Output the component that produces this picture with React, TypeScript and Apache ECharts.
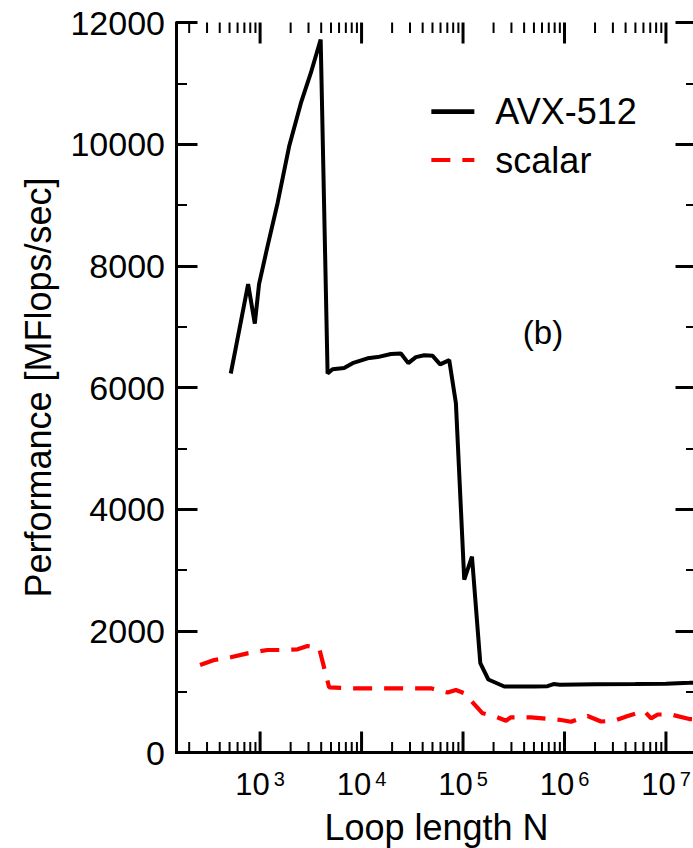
import React, { useEffect, useRef } from 'react';
import * as echarts from 'echarts';

const FONT = '"Liberation Sans", Arial, Helvetica, sans-serif';

// AVX-512 series (loop length N, MFlops/sec)
const avxN = [514, 576, 762, 887, 977, 1183, 1486, 1931, 2518, 3162, 3954, 4625, 5176, 6730, 8150, 11460, 14390, 19450, 24430, 28850, 34300, 41500, 50150, 59550, 73100, 85100, 102800, 122500, 148000, 177600, 254900, 500000, 680000, 780000, 900000, 2000000, 5000000, 10000000, 17000000, 20000000];
const avxPerf = [6230, 6650, 7700, 7050, 7700, 8320, 9030, 9960, 10670, 11170, 11720, 6230, 6300, 6320, 6400, 6480, 6500, 6550, 6560, 6400, 6500, 6530, 6520, 6380, 6450, 5740, 2840, 3220, 1470, 1200, 1085, 1085, 1090, 1125, 1115, 1120, 1125, 1130, 1145, 1150];

// scalar series
const scalarN = [256, 352, 514, 751, 1183, 1600, 2340, 2930, 3820, 4790, 7830, 24430, 48300, 70500, 85100, 102800, 156000, 211000, 265000, 297000, 468000, 925000, 1160000, 1690000, 2290000, 3100000, 4200000, 6130000, 7130000, 8300000, 11200000, 17000000, 20000000];
const scalarPerf = [1440, 1520, 1565, 1630, 1685, 1685, 1696, 1750, 1715, 1072, 1055, 1055, 1055, 985, 1027, 975, 644, 589, 523, 578, 578, 534, 506, 600, 510, 523, 600, 680, 562, 625, 625, 550, 545];

// axis ticks
const X_MIN = 150;
const X_MAX = 2e7;
const MAJOR_TICKS = [1e3, 1e4, 1e5, 1e6, 1e7];
const DECADES = [1e2, 1e3, 1e4, 1e5, 1e6, 1e7];
const MINOR_MULT = [2, 3, 4, 5, 6, 7, 8, 9];
const Y_TICKS = [0, 2000, 4000, 6000, 8000, 10000, 12000];

export default function App() {
  const ref = useRef<HTMLDivElement>(null);
  useEffect(() => {
    const chart = echarts.init(ref.current!, null, { renderer: 'svg' });
    const minor: number[] = [];
    DECADES.forEach((d) => MINOR_MULT.forEach((m) => {
      const v = d * m;
      if (v > X_MIN && v < X_MAX) minor.push(v);
    }));
    const tickData = [
      ...MAJOR_TICKS.map((v) => [v, 0, 1]),
      ...minor.map((v) => [v, 0, 0]),
    ];
    const xFormatter = (v: number) => {
      const e = Math.round(Math.log10(v));
      if (Math.abs(Math.log10(v) - e) > 1e-6) return '';
      return `{b|10}{s|${e}}`;
    };
    const yAxisCommon = {
      type: 'value',
      min: Y_TICKS[0],
      max: Y_TICKS[Y_TICKS.length - 1],
      interval: 2000,
      splitLine: { show: false },
      axisLine: { show: true, lineStyle: { color: '#000', width: 3 } },
      axisTick: { show: true, inside: true, length: 21, lineStyle: { color: '#000', width: 3 } },
      minorTick: { show: true, splitNumber: 2, length: 10.5, lineStyle: { color: '#000', width: 2 } },
      minorSplitLine: { show: false },
    };
    chart.setOption({
      animation: false,
      backgroundColor: '#fff',
      grid: { left: 176.5, top: 22.5, width: 520, height: 730, containLabel: false, outerBoundsMode: 'none' },
      xAxis: [
        {
          type: 'log',
          min: X_MIN,
          max: X_MAX,
          position: 'bottom',
          name: 'Loop length N',
          nameLocation: 'middle',
          nameGap: 57,
          nameTextStyle: { fontSize: 36, fontFamily: FONT, color: '#000' },
          axisLine: { show: true, lineStyle: { color: '#000', width: 3 } },
          axisTick: { show: false },
          minorTick: { show: false },
          splitLine: { show: false },
          axisLabel: {
            formatter: xFormatter,
            margin: 16.6,
            showMinLabel: false,
            showMaxLabel: false,
            color: '#000',
            rich: {
              b: { fontSize: 31, lineHeight: 31, fontFamily: FONT, color: '#000', padding: [7, 0, 0, 0], verticalAlign: 'bottom' },
              s: { fontSize: 20, lineHeight: 20, fontFamily: FONT, color: '#000', padding: [0, 0, 0, 4], verticalAlign: 'top' },
            },
          },
        },
        {
          type: 'log',
          min: X_MIN,
          max: X_MAX,
          position: 'top',
          axisLine: { show: true, lineStyle: { color: '#000', width: 3 } },
          axisTick: { show: false },
          minorTick: { show: false },
          splitLine: { show: false },
          axisLabel: { show: false },
        },
      ],
      yAxis: [
        {
          ...yAxisCommon,
          position: 'left',
          name: 'Performance [MFlops/sec]',
          nameLocation: 'middle',
          nameRotate: 90,
          nameGap: 120,
          nameTextStyle: { fontSize: 36, fontFamily: FONT, color: '#000' },
          axisLabel: { fontSize: 34, fontFamily: FONT, color: '#000', margin: 11.5, formatter: (v: number) => String(v) },
        },
        {
          ...yAxisCommon,
          position: 'right',
          axisLabel: { show: false },
        },
      ],
      legend: {
        data: [
          { name: 'AVX-512', lineStyle: { width: 4.7 } },
          { name: 'scalar', lineStyle: { width: 4.2 } },
        ],
        orient: 'vertical',
        left: 429,
        top: 93.7,
        padding: 0,
        itemWidth: 43,
        itemHeight: 20,
        itemGap: 12.3,
        selectedMode: false,
        itemStyle: { opacity: 0 },
        textStyle: { fontSize: 36, lineHeight: 36, fontFamily: FONT, color: '#000', padding: [0, 0, 0, 16] },
      },
      graphic: [
        {
          type: 'text',
          x: 543,
          y: 332,
          style: { text: '(b)', fontSize: 33, fontFamily: FONT, fill: '#000', align: 'center', verticalAlign: 'middle', textAlign: 'center', textVerticalAlign: 'middle' },
        },
      ],
      series: [
        {
          name: 'AVX-512',
          type: 'line',
          data: avxN.map((n, i) => [n, avxPerf[i]]),
          symbol: 'none',
          showSymbol: false,
          lineStyle: { color: '#000', width: 4 },
          itemStyle: { color: '#000' },
          z: 4,
        },
        {
          name: 'scalar',
          type: 'line',
          data: scalarN.map((n, i) => [n, scalarPerf[i]]),
          symbol: 'none',
          showSymbol: false,
          lineStyle: { color: '#ff0000', width: 4.2, type: [19, 12] },
          itemStyle: { color: '#ff0000' },
          z: 3,
        },
        {
          type: 'custom',
          silent: true,
          xAxisIndex: 0,
          yAxisIndex: 0,
          encode: { x: 0, y: 1 },
          data: tickData,
          z: 5,
          renderItem: (params: any, api: any) => {
            const x = api.coord([api.value(0), 0])[0];
            const cs = params.coordSys;
            const major = api.value(2) === 1;
            const len = major ? 21 : 10.5;
            const w = major ? 3 : 2;
            const top = cs.y;
            const bottom = cs.y + cs.height;
            return {
              type: 'group',
              children: [
                { type: 'line', shape: { x1: x, y1: bottom, x2: x, y2: bottom - len }, style: { stroke: '#000', lineWidth: w } },
                { type: 'line', shape: { x1: x, y1: top, x2: x, y2: top + len }, style: { stroke: '#000', lineWidth: w } },
              ],
            };
          },
        },
      ],
    });
    return () => chart.dispose();
  }, []);
  return <div ref={ref} style={{ position: 'fixed', left: 0, top: 0, width: 693, height: 848, background: '#fff' }} />;
}
